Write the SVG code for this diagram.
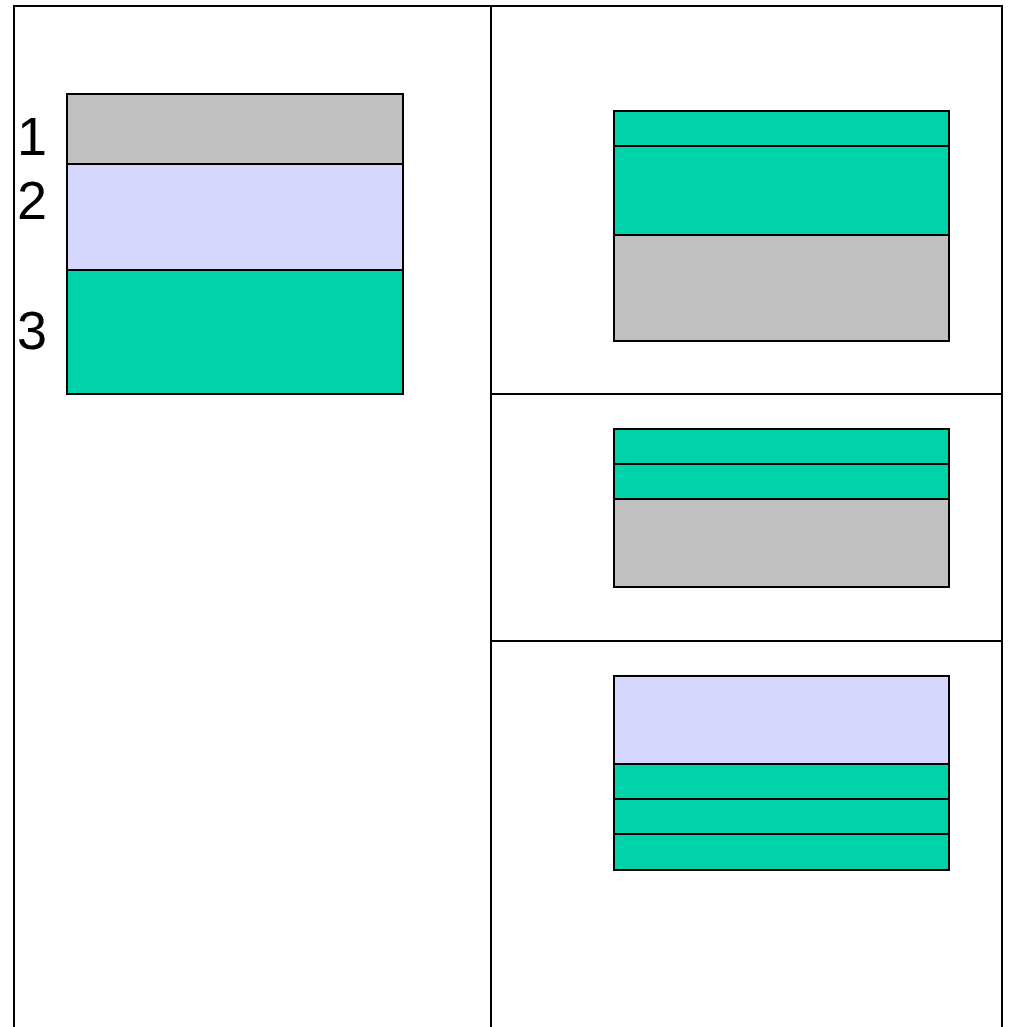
<svg xmlns="http://www.w3.org/2000/svg" width="1011" height="1027" viewBox="0 0 1011 1027">
<style>
.frame{stroke:#000;stroke-width:2;fill:none}
.cell{stroke:#000;stroke-width:2}
.gray{fill:#C0C0C0}
.lav{fill:#D6D7FC}
.teal{fill:#00D2AA}
.lbl{font-family:"Liberation Sans",Arial,sans-serif;font-size:54px;fill:#000}
</style>
<rect width="1011" height="1027" fill="#fff"/>
<g id="frame">
<polyline class="frame" points="14,1027 14,6 1002,6 1002,1027"/>
<line class="frame" x1="491" y1="6" x2="491" y2="1027"/>
<line class="frame" x1="491" y1="394" x2="1002" y2="394"/>
<line class="frame" x1="491" y1="641" x2="1002" y2="641"/>
</g>
<g id="stack-left">
<rect class="cell gray" x="67" y="94" width="336" height="70"/>
<rect class="cell lav" x="67" y="164" width="336" height="106"/>
<rect class="cell teal" x="67" y="270" width="336" height="124"/>
<text class="lbl" x="17" y="155">1</text>
<text class="lbl" x="17" y="219">2</text>
<text class="lbl" x="17" y="349">3</text>
</g>
<g id="stack-top">
<rect class="cell teal" x="614" y="111" width="335" height="35"/>
<rect class="cell teal" x="614" y="146" width="335" height="89"/>
<rect class="cell gray" x="614" y="235" width="335" height="106"/>
</g>
<g id="stack-middle">
<rect class="cell teal" x="614" y="429" width="335" height="35"/>
<rect class="cell teal" x="614" y="464" width="335" height="35"/>
<rect class="cell gray" x="614" y="499" width="335" height="88"/>
</g>
<g id="stack-bottom">
<rect class="cell lav" x="614" y="676" width="335" height="88"/>
<rect class="cell teal" x="614" y="764" width="335" height="35"/>
<rect class="cell teal" x="614" y="799" width="335" height="35"/>
<rect class="cell teal" x="614" y="834" width="335" height="36"/>
</g>
<g id="connectors"></g>
</svg>
